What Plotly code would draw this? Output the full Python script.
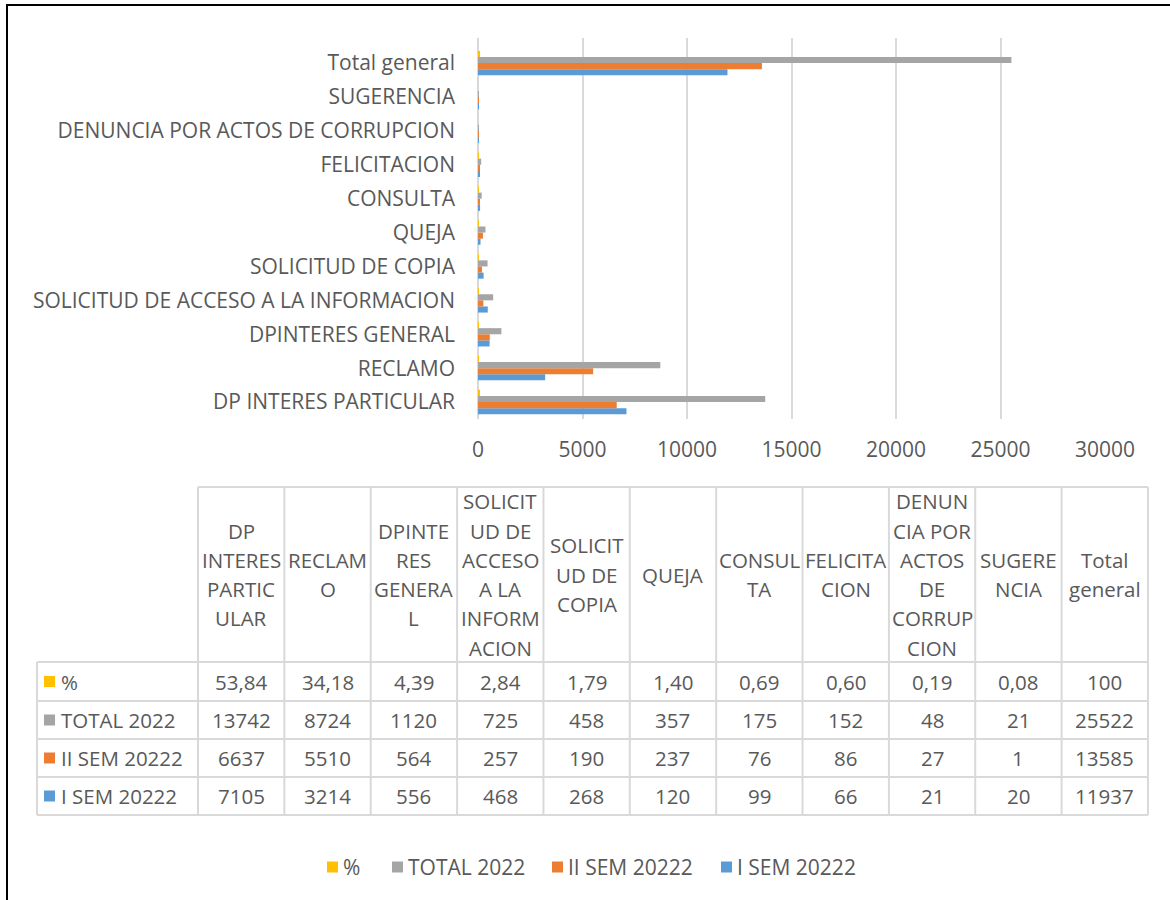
import plotly.graph_objects as go

# ---------------- data ----------------
categories = ["DP INTERES PARTICULAR", "RECLAMO", "DPINTERES GENERAL",
              "SOLICITUD DE ACCESO A LA INFORMACION", "SOLICITUD DE COPIA",
              "QUEJA", "CONSULTA", "FELICITACION",
              "DENUNCIA POR ACTOS DE CORRUPCION", "SUGERENCIA", "Total general"]
header_labels = ["DP<br>INTERES<br>PARTIC<br>ULAR", "RECLAM<br>O",
                 "DPINTE<br>RES<br>GENERA<br>L",
                 "SOLICIT<br>UD DE<br>ACCESO<br>A LA<br>INFORM<br>ACION",
                 "SOLICIT<br>UD DE<br>COPIA", "QUEJA", "CONSUL<br>TA",
                 "FELICITA<br>CION",
                 "DENUN<br>CIA POR<br>ACTOS<br>DE<br>CORRUP<br>CION",
                 "SUGERE<br>NCIA", "Total<br>general"]
pct = [53.84, 34.18, 4.39, 2.84, 1.79, 1.40, 0.69, 0.60, 0.19, 0.08, 100]
total_2022 = [13742, 8724, 1120, 725, 458, 357, 175, 152, 48, 21, 25522]
sem2_2022 = [6637, 5510, 564, 257, 190, 237, 76, 86, 27, 1, 13585]
sem1_2022 = [7105, 3214, 556, 468, 268, 120, 99, 66, 21, 20, 11937]
series_names = ["%", "TOTAL 2022", "II SEM 20222", "I SEM 20222"]
series_colors = ["#FFC000", "#A5A5A5", "#ED7D31", "#5B9BD5"]
x_ticks = [0, 5000, 10000, 15000, 20000, 25000, 30000]

W, H = 1170, 900
FONT = "Open Sans"
TXT = "#595959"
FS = 21
FS_TAB = 20.5


def px(x):
    return x / W


def py(y):
    return 1 - y / H


def fmt_pct(v):
    if v == int(v):
        return str(int(v))
    return f"{v:.2f}".replace(".", ",")


fig = go.Figure()
values_by_series = [pct, total_2022, sem2_2022, sem1_2022]
# bars: first trace sits lowest in each group
for name, vals, col in reversed(list(zip(series_names, values_by_series, series_colors))):
    fig.add_trace(go.Bar(y=categories, x=vals, name=name, orientation="h",
                         marker=dict(color=col, line=dict(width=0)),
                         showlegend=False))

fig.update_layout(
    width=W, height=H,
    margin=dict(l=0, r=0, t=0, b=0),
    paper_bgcolor="white", plot_bgcolor="white",
    barmode="group", bargap=0.28, bargroupgap=0,
    font=dict(family=FONT, color=TXT, size=FS),
    xaxis=dict(domain=[px(478), px(1105)], range=[0, 30000],
               tickvals=x_ticks, ticktext=[str(t) for t in x_ticks],
               showgrid=True, gridcolor="#D9D9D9", gridwidth=2,
               zeroline=True, zerolinecolor="#D9D9D9", zerolinewidth=2,
               showline=False, ticks="", ticklabelstandoff=16,
               tickfont=dict(size=FS, color=TXT), automargin=False,
               fixedrange=True),
    yaxis=dict(domain=[py(419), py(38)], range=[-0.5, 10.74],
               categoryorder="array", categoryarray=categories,
               showgrid=False, zeroline=False, showline=False, ticks="",
               ticklabelstandoff=22, tickfont=dict(size=FS, color=TXT),
               automargin=False, fixedrange=True),
)

shapes = []
annotations = []
LINE = dict(color="#D9D9D9", width=2)

# ---------------- data table ----------------
col_left = 198
col_w = 86.36
label_left = 37
head_top, head_bot = 487, 662
row_edges = [662, 701, 739, 777, 815]
n_cols = len(categories)
table_right = col_left + n_cols * col_w

# horizontal lines
shapes.append(dict(type="line", xref="paper", yref="paper",
                   x0=px(col_left), x1=px(table_right), y0=py(head_top), y1=py(head_top), line=LINE))
for ye in row_edges:
    shapes.append(dict(type="line", xref="paper", yref="paper",
                       x0=px(label_left), x1=px(table_right), y0=py(ye), y1=py(ye), line=LINE))
# vertical lines
shapes.append(dict(type="line", xref="paper", yref="paper",
                   x0=px(label_left), x1=px(label_left), y0=py(head_bot), y1=py(row_edges[-1]), line=LINE))
for i in range(n_cols + 1):
    xe = col_left + i * col_w
    shapes.append(dict(type="line", xref="paper", yref="paper",
                       x0=px(xe), x1=px(xe), y0=py(head_top), y1=py(row_edges[-1]), line=LINE))

# header text (each wrapped line placed separately)
line_h = 29.3
head_c = (head_top + head_bot) / 2
for i, lab in enumerate(header_labels):
    xc = col_left + (i + 0.5) * col_w
    lines = lab.split("<br>")
    n = len(lines)
    for j, ln in enumerate(lines):
        yc = head_c + (j - (n - 1) / 2) * line_h
        annotations.append(dict(xref="paper", yref="paper", x=px(xc), y=py(yc),
                                text=ln, showarrow=False, xanchor="center", yanchor="middle",
                                font=dict(size=FS_TAB, color=TXT, family=FONT)))

# rows
row_texts = [[fmt_pct(v) for v in pct], [str(v) for v in total_2022],
             [str(v) for v in sem2_2022], [str(v) for v in sem1_2022]]
for r, (name, col, texts) in enumerate(zip(series_names, series_colors, row_texts)):
    yc = (row_edges[r] + row_edges[r + 1]) / 2
    shapes.append(dict(type="rect", xref="paper", yref="paper",
                       x0=px(44), x1=px(55), y0=py(yc - 5.5), y1=py(yc + 5.5),
                       fillcolor=col, line=dict(width=0)))
    annotations.append(dict(xref="paper", yref="paper", x=px(59), y=py(yc),
                            text=name, showarrow=False, xanchor="left", yanchor="middle",
                            font=dict(size=FS_TAB, color=TXT, family=FONT)))
    for i, t in enumerate(texts):
        xc = col_left + (i + 0.5) * col_w
        annotations.append(dict(xref="paper", yref="paper", x=px(xc), y=py(yc),
                                text=t, showarrow=False, xanchor="center", yanchor="middle",
                                font=dict(size=FS_TAB, color=TXT, family=FONT)))

# ---------------- legend ----------------
leg_y = 867
leg_x = [327, 392, 552, 721]
for name, col, lx in zip(series_names, series_colors, leg_x):
    shapes.append(dict(type="rect", xref="paper", yref="paper",
                       x0=px(lx), x1=px(lx + 11), y0=py(leg_y - 5.5), y1=py(leg_y + 5.5),
                       fillcolor=col, line=dict(width=0)))
    annotations.append(dict(xref="paper", yref="paper", x=px(lx + 14), y=py(leg_y),
                            text=name, showarrow=False, xanchor="left", yanchor="middle",
                            font=dict(size=FS, color=TXT, family=FONT)))

# outer frame
shapes.append(dict(type="rect", xref="paper", yref="paper",
                   x0=px(7), x1=px(1180), y0=py(910), y1=py(5),
                   line=dict(color="black", width=2), fillcolor="rgba(0,0,0,0)"))

fig.update_layout(shapes=shapes, annotations=annotations)
fig.write_html("out.html")
